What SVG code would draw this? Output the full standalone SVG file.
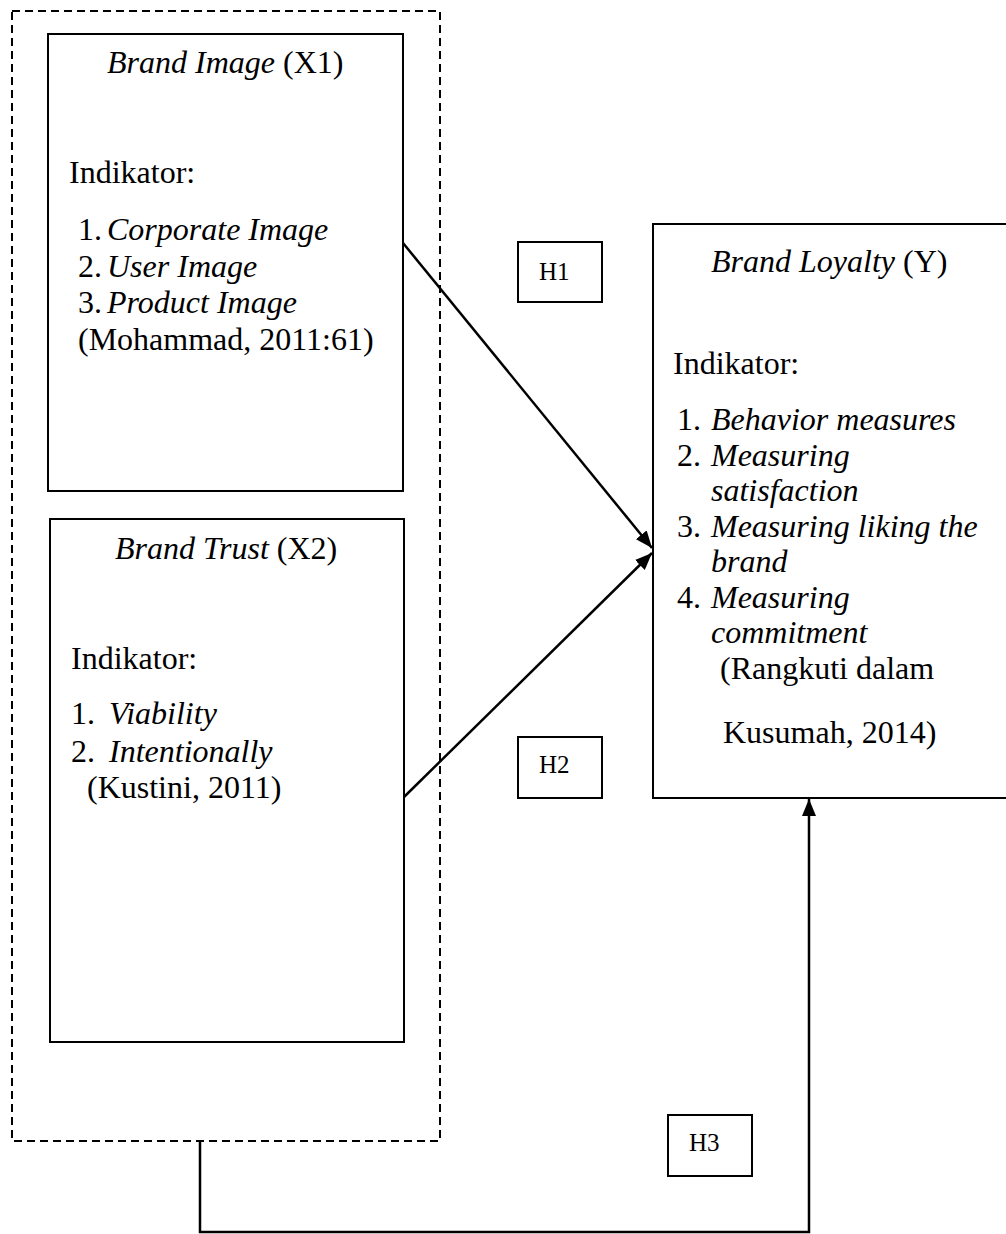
<svg xmlns="http://www.w3.org/2000/svg" width="1006" height="1234" viewBox="0 0 1006 1234">
<style>
text{font-family:"Liberation Serif","Times New Roman",serif;font-size:32px;fill:#000}
.i{font-style:italic}
.h{font-size:25px}
.box{fill:#fff;stroke:#000;stroke-width:2}
.dash{fill:none;stroke:#000;stroke-width:2;stroke-dasharray:8 5}
.conn{fill:none;stroke:#000;stroke-width:2.5}
</style>
<defs>
<marker id="ah" markerUnits="userSpaceOnUse" markerWidth="18" markerHeight="14" refX="17" refY="7" orient="auto">
<path d="M0,0 L17,7 L0,14 z" fill="#000"/>
</marker>
</defs>
<rect width="1006" height="1234" fill="#fff"/>
<g id="group-x">
<rect class="dash" x="12" y="11" width="428" height="1130"/>
</g>
<g id="brand-image">
<rect class="box" x="48" y="34" width="355" height="457"/>
<text x="107" y="73"><tspan class="i">Brand Image</tspan> (X1)</text>
<text x="69" y="183">Indikator:</text>
<text x="78" y="240">1.</text><text class="i" x="107" y="240">Corporate Image</text>
<text x="78" y="277">2.</text><text class="i" x="107" y="277">User Image</text>
<text x="78" y="313">3.</text><text class="i" x="107" y="313">Product Image</text>
<text x="78" y="350">(Mohammad, 2011:61)</text>
</g>
<g id="brand-trust">
<rect class="box" x="50" y="519" width="354" height="523"/>
<text x="115" y="559"><tspan class="i">Brand Trust</tspan> (X2)</text>
<text x="71" y="669">Indikator:</text>
<text x="71" y="724">1.</text><text class="i" x="109" y="724">Viability</text>
<text x="71" y="762">2.</text><text class="i" x="109" y="762">Intentionally</text>
<text x="87" y="798">(Kustini, 2011)</text>
</g>
<g id="brand-loyalty">
<rect class="box" x="653" y="224" width="360" height="574"/>
<text x="711" y="272"><tspan class="i">Brand Loyalty</tspan> (Y)</text>
<text x="673" y="374">Indikator:</text>
<text x="677" y="430">1.</text><text class="i" x="711" y="430">Behavior measures</text>
<text x="677" y="466">2.</text><text class="i" x="711" y="466">Measuring</text>
<text class="i" x="711" y="501">satisfaction</text>
<text x="677" y="537">3.</text><text class="i" x="711" y="537">Measuring liking the</text>
<text class="i" x="711" y="572">brand</text>
<text x="677" y="608">4.</text><text class="i" x="711" y="608">Measuring</text>
<text class="i" x="711" y="643">commitment</text>
<text x="720" y="679">(Rangkuti dalam</text>
<text x="723" y="743">Kusumah, 2014)</text>
</g>
<g id="h1">
<rect class="box" x="518" y="242" width="84" height="60"/>
<text class="h" x="539" y="280">H1</text>
</g>
<g id="h2">
<rect class="box" x="518" y="737" width="84" height="61"/>
<text class="h" x="539" y="773">H2</text>
</g>
<g id="h3">
<rect class="box" x="668" y="1115" width="84" height="61"/>
<text class="h" x="689" y="1151">H3</text>
</g>
<g id="connectors">
<line class="conn" x1="403" y1="243" x2="652" y2="548" marker-end="url(#ah)"/>
<line class="conn" x1="404" y1="797" x2="652" y2="553" marker-end="url(#ah)"/>
<polyline class="conn" points="200,1141 200,1232 809,1232 809,799" marker-end="url(#ah)"/>
</g>
</svg>
